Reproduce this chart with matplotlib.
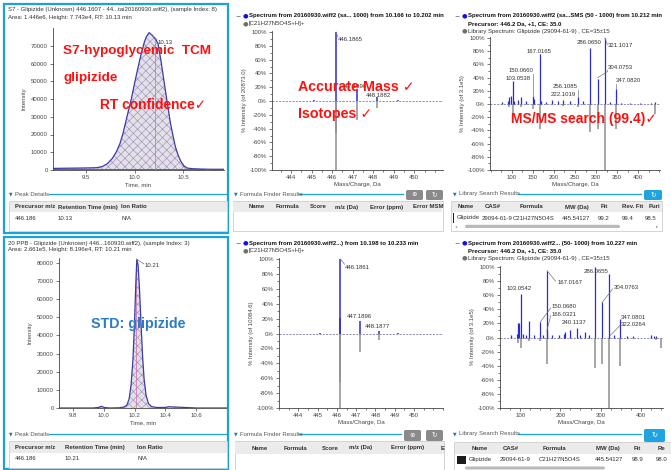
import matplotlib
matplotlib.use("Agg")
import matplotlib.pyplot as plt
from matplotlib.patches import Rectangle, FancyBboxPatch
from matplotlib.lines import Line2D
from matplotlib.ticker import FixedLocator, MultipleLocator, FuncFormatter

plt.rcParams["font.family"] = ["Liberation Sans", "DejaVu Sans"]
plt.rcParams["hatch.linewidth"] = 0.4

# ---------------------------------------------------------------- data
# Extracted ion chromatogram, S7 hypoglycemic TCM sample
s7_time = [9.16, 9.30, 9.45, 9.55, 9.61, 9.67, 9.72, 9.77, 9.81, 9.85, 9.88, 9.93,
           9.97, 10.00, 10.04, 10.07, 10.10, 10.12, 10.15, 10.18, 10.21, 10.24,
           10.27, 10.30, 10.33, 10.37, 10.40, 10.42, 10.45, 10.48, 10.51, 10.54,
           10.60, 10.70, 10.80, 10.92]
s7_int = [900, 1000, 1100, 1200, 1300, 2000, 3600, 6500, 10000, 15000, 20500, 32000,
          41000, 49000, 59000, 66000, 72000, 75000, 77430, 76000, 74000, 71500,
          62000, 51000, 40000, 26000, 18000, 13000, 8000, 4500, 2200, 1100,
          700, 500, 400, 400]

# Extracted ion chromatogram, 20 ppb glipizide standard
std_time = [9.71, 9.93, 9.965, 9.985, 10.005, 10.04, 10.10, 10.13, 10.15, 10.165,
            10.178, 10.19, 10.20, 10.208, 10.215, 10.223, 10.232, 10.242, 10.252,
            10.262, 10.275, 10.29, 10.31, 10.34, 10.40, 10.42, 10.60, 10.80]
std_int = [0, 0, 300, 900, 250, 0, 100, 500, 1500, 5000, 13000, 27000, 47000, 68000,
           81960, 79000, 66000, 47000, 29000, 16000, 7000, 2500, 800, 300, 300, 700, 0, 0]

# TOF-MS isotope spectra (% of base peak) and theoretical pattern (mirrored)
ms1_s7_mz = [444.19, 445.10, 446.1865, 447.1896, 448.1882, 449.19]
ms1_s7_int = [0.5, 1.0, 100, 16, 6, 1.2]
ms1_s7_lib_mz = [446.182, 446.186, 447.19, 448.19]
ms1_s7_lib_int = [-47, -100, -27, -10]

ms1_std_mz = [445.10, 446.16, 446.1861, 447.1896, 448.1877, 449.19]
ms1_std_int = [1.0, 21, 100, 17, 3.5, 1.2]
ms1_std_lib_mz = [446.182, 446.186, 447.19, 448.185]
ms1_std_lib_int = [-65, -100, -25, -8]

# MS/MS spectra (% of 3.1e5) and library spectrum (mirrored)
ms2_s7_mz = [77, 91, 93.7, 98.4, 103.0538, 106, 115, 121, 134, 150.0660, 152,
             167.0165, 170, 180, 196, 210, 222.1019, 238, 256.1085, 270, 286.0650,
             304.0753, 321.1017, 334, 347.0820, 360, 380, 405, 430, 441]
ms2_s7_int = [3, 5, 10, 12, 35, 5, 6, 11, 4, 12, 8, 75, 5, 3, 6, 4, 6, 5, 10, 4,
              85, 38, 100, 3, 22, 2, 2, 2, 2, 3]
ms2_s7_lib_mz = [93.7, 103.05, 121, 150.07, 167.02, 222.1, 256.11, 286.07, 304.08,
                 321.10, 347.08, 440]
ms2_s7_lib_int = [-5, -15, -5, -8, -38, -3, -5, -42, -38, -100, -38, -15]

ms2_std_mz = [77, 91, 94, 97.5, 103.0542, 108, 115, 121.5, 134, 150.0680, 158,
              166.0321, 167.0167, 180, 196, 208, 212, 225, 240.1137, 250, 261, 270,
              286.0655, 304.0763, 321.1, 322.0264, 334, 347.0801, 365, 380, 425, 432, 437]
ms2_std_int = [4, 5, 20, 21, 62, 5, 4, 23, 3, 22, 3, 8, 95, 3, 4, 5, 8, 10, 14, 4, 8, 3,
               100, 50, 90, 2, 3, 27, 2, 2, 3, 2, 2]
ms2_std_lib_mz = [94, 103.05, 121.5, 150.07, 167.02, 286.07, 304.08, 321.10, 347.08,
                  437, 449]
ms2_std_lib_int = [-8, -15, -5, -5, -38, -43, -38, -100, -40, -4, -15]

# ---------------------------------------------------------------- layout helpers
W, H = 671, 470
fig = plt.figure(figsize=(W / 100, H / 100), dpi=100)
fig.patch.set_facecolor("white")

CYAN = "#1aa3da"
BLUE = "#2a2ad8"
GRAY = "#8e8e8e"
DARK = "#333333"
RED = "#ff1010"
UI = 4.3


def ftext(x, y, s, **kw):
    kw.setdefault("va", "center")
    kw.setdefault("fontsize", UI)
    kw.setdefault("color", DARK)
    return fig.text(x / W, 1 - y / H, s, **kw)


def frect(x0, y0, x1, y1, **kw):
    r = Rectangle((x0 / W, 1 - y1 / H), (x1 - x0) / W, (y1 - y0) / H,
                  transform=fig.transFigure, **kw)
    fig.add_artist(r)
    return r


def fbutton(x0, y0, w, h, color):
    fig.add_artist(FancyBboxPatch((x0 / W, 1 - (y0 + h) / H), w / W, h / H,
                                  boxstyle="round,pad=0,rounding_size=0.003",
                                  transform=fig.transFigure, facecolor=color,
                                  edgecolor="none"))


def fline(x0, y0, x1, y1, **kw):
    fig.add_artist(Line2D([x0 / W, x1 / W], [1 - y0 / H, 1 - y1 / H],
                          transform=fig.transFigure, **kw))


def add_ax(x0, y0, x1, y1):
    ax = fig.add_axes([x0 / W, 1 - y1 / H, (x1 - x0) / W, (y1 - y0) / H])
    ax.set_facecolor("none")
    for s in ("top", "right"):
        ax.spines[s].set_visible(False)
    for s in ("left", "bottom"):
        ax.spines[s].set_color("#444444")
        ax.spines[s].set_linewidth(0.6)
    ax.tick_params(which="both", direction="out", width=0.5, colors="#444444",
                   labelsize=UI, pad=1.5)
    ax.tick_params(which="major", length=2.2)
    ax.tick_params(which="minor", length=1.2)
    return ax


def section(x, y, title, x_end):
    ftext(x, y, "\u25bc", fontsize=3.3, color="#1a78b4", family="DejaVu Sans")
    ftext(x + 6, y, title, color="#555555")
    fline(x + 6 + len(title) * 2.55 + 3, y, x_end, y, color=CYAN, lw=0.9)


def table(x0, y0, x1, y1, header, hx, rows=(), row_y=None, hband=None):
    frect(x0, y0, x1, y1, facecolor="white", edgecolor="#cccccc", lw=0.6)
    hb = hband if hband else (y0 + 1, y0 + 12)
    frect(x0 + 0.5, hb[0], x1 - 0.5, hb[1], facecolor="#ebebeb", edgecolor="none")
    hy = (hb[0] + hb[1]) / 2
    for s, xx in zip(header, hx):
        ftext(xx, hy, s, fontweight="bold", color="#303030")
    for r in rows:
        for s, xx in zip(r[0], r[1]):
            ftext(xx, row_y, s, color="#303030")


def spec_header(x, y, lines):
    ftext(x - 8, y, "\u2212", fontsize=4.5, color="#555555", family="DejaVu Sans")
    ftext(x, y, "\u25cf", fontsize=4.6, color="#1010e8", family="DejaVu Sans")
    for i, (s, bold, dot) in enumerate(lines):
        yy = y + 7.6 * i
        if dot:
            ftext(x, yy, "\u25cf", fontsize=4.6, color="#707070", family="DejaVu Sans")
        ftext(x + 6, yy, s, fontweight="bold" if bold else "normal",
              color="#111111" if bold else "#333333")


def pct(v, _):
    return f"{int(round(v))}%"


def spectrum_axes(rect, xlim, xticks, ylabel):
    ax = add_ax(*rect)
    ax.set_xlim(*xlim)
    ax.set_ylim(-100, 101.5)
    ax.yaxis.set_major_locator(FixedLocator(list(range(-100, 101, 20))))
    ax.yaxis.set_minor_locator(MultipleLocator(10))
    ax.yaxis.set_major_formatter(FuncFormatter(pct))
    ax.set_xticks(xticks)
    ax.axhline(0, color="#7c7ca6", lw=0.6, ls=(0, (2.5, 1.5)), zorder=1)
    ax.set_xlabel("Mass/Charge, Da", fontsize=UI, color="#444444", labelpad=1.5)
    ax.set_ylabel(ylabel, fontsize=UI, color="#444444", labelpad=2)
    return ax


def peaks(ax, mz, inten, lib_mz, lib_int, lw=0.9):
    ax.vlines(lib_mz, 0, lib_int, colors=GRAY, lw=1.1, zorder=2)
    ax.vlines(mz, 0, inten, colors=BLUE, lw=lw, zorder=3)


def plabel(ax, x, y, s, lead=None):
    ax.text(x, y, s, fontsize=UI, color="#333333", va="center", ha="left", zorder=5)
    if lead is not None:
        ax.plot(lead[0], lead[1], color="#777777", lw=0.5, zorder=4)


def chrom_axes(rect, xlim, ylim, xticks, yticks, t, inten, rt_mark, base):
    ax = add_ax(*rect)
    ax.set_xlim(*xlim)
    ax.set_ylim(*ylim)
    ax.set_xticks(xticks)
    ax.set_yticks(yticks)
    ax.yaxis.set_major_formatter(FuncFormatter(lambda v, _: f"{int(v)}"))
    ax.fill_between(t, 0, inten, facecolor="#e4e0ea", edgecolor="#978cad",
                    hatch="xxxx", lw=0, zorder=1)
    ax.plot(t, inten, color="#3b3ba8", lw=0.9, zorder=3)
    ax.plot(base[0], base[1], color="#e0303a", lw=0.7, zorder=2)
    ax.vlines(rt_mark[0], 0, rt_mark[1], colors="#d07ab4", lw=0.6, zorder=2)
    ax.set_xlabel("Time, min", fontsize=UI, color="#444444", labelpad=1.5)
    ax.set_ylabel("Intensity", fontsize=UI, color="#444444", labelpad=3)
    return ax


def red_note(x, y, s, size=10.2, color=RED):
    fig.text(x / W, 1 - y / H, s, fontsize=size, fontweight="bold", color=color,
             va="center", zorder=10)


# ---------------------------------------------------------------- left column: XICs
frect(4, 4, 228, 233, facecolor="none", edgecolor=CYAN, lw=1.6)
frect(4, 237, 228, 469, facecolor="none", edgecolor=CYAN, lw=1.6)

ftext(8, 10, "S7 - Glipizide (Unknown) 446.1607 - 44...tai20160930.wiff2), (sample Index: 8)")
ftext(8, 17, "Area: 1.446e6, Height: 7.743e4, RT: 10.13 min")
ax = chrom_axes((53, 28, 224, 170), (9.16, 10.92), (0, 80000), [9.5, 10.0, 10.5],
                list(range(0, 70001, 10000)), s7_time, s7_int, (10.21, 74000),
                ([9.16, 10.72], [450, 450]))
plabel(ax, 10.235, 71800, "10.13", lead=([10.15, 10.23], [77430, 73500]))
red_note(63, 51, "S7-hypoglycemic  TCM", size=9.7)
red_note(63, 78, "glipizide", size=9.7)
red_note(100, 105, "RT confidence\u2713", size=9.9)

section(9, 194, "Peak Details", 227)
table(9, 201, 227, 231, ["Precursor m/z", "Retention Time (min)", "Ion Ratio"],
      [15, 58, 121], rows=[(["446.186", "10.13", "N/A"], [15, 58, 121])], row_y=219,
      hband=(202, 212))

ftext(8, 243, "20 PPB - Glipizide (Unknown) 446...160930.wiff2), (sample Index: 3)")
ftext(8, 250, "Area: 2.661e5, Height: 8.196e4, RT: 10.21 min")
ax = chrom_axes((59, 258, 227, 408), (9.71, 10.80), (0, 82700),
                [9.8, 10.0, 10.2, 10.4, 10.6], list(range(0, 80001, 10000)),
                std_time, std_int, (10.21, 78000), ([10.13, 10.45], [250, 250]))
plabel(ax, 10.265, 78500, "10.21", lead=([10.215, 10.26], [81960, 79500]))
red_note(91, 324, "STD: glipizide", size=10.3, color="#2b7cc4")

section(9, 434, "Peak Details", 227)
table(9, 441, 227, 468, ["Precursor m/z", "Retention Time (min)", "Ion Ratio"],
      [15, 65, 137], rows=[(["446.186", "10.21", "N/A"], [15, 65, 137])], row_y=459,
      hband=(442, 453))

# ---------------------------------------------------------------- middle column: TOF-MS
spec_header(243, 16, [("Spectrum from 20160930.wiff2 (sa... 1000) from 10.166 to 10.202 min", True, False),
                      ("[C21H27N5O4S+H]+", False, True)])
ax = spectrum_axes((272, 31, 443, 170), (443.07, 451.4), [444, 445, 446, 447, 448, 449, 450],
                   "% Intensity (of 20873.0)")
ax.xaxis.set_minor_locator(MultipleLocator(0.5))
peaks(ax, ms1_s7_mz, ms1_s7_int, ms1_s7_lib_mz, ms1_s7_lib_int, lw=1.1)
plabel(ax, 446.29, 89, "446.1865", lead=([446.19, 446.28], [100, 93]))
plabel(ax, 446.45, 21, "447.1896")
plabel(ax, 447.65, 8, "448.1882")
red_note(298, 87, "Accurate Mass \u2713", size=10.3)
red_note(298, 114, "Isotopes \u2713", size=10.3)

section(234, 194, "Formula Finder Results", 403)
fbutton(406, 190, 17, 10, "#8a8a8a")
fbutton(426, 190, 17, 10, "#8a8a8a")
ftext(414.5, 195, "\u2295", ha="center", fontsize=4.6, color="white", family="DejaVu Sans")
ftext(434.5, 195, "\u21bb", ha="center", fontsize=4.8, color="white", family="DejaVu Sans")
table(233, 201, 443, 231, ["Name", "Formula", "Score", "m/z (Da)", "Error (ppm)", "Error MSM"],
      [249, 276, 310, 335, 370, 413], hband=(202, 212))

spec_header(243, 243, [("Spectrum from 20160930.wiff2...) from 10.198 to 10.233 min", True, False),
                       ("[C21H27N5O4S+H]+", False, True)])
ax = spectrum_axes((279, 258, 443, 408), (443.0, 451.5), [444, 445, 446, 447, 448, 449, 450],
                   "% Intensity (of 10084.6)")
ax.xaxis.set_minor_locator(MultipleLocator(0.5))
peaks(ax, ms1_std_mz, ms1_std_int, ms1_std_lib_mz, ms1_std_lib_int, lw=1.1)
plabel(ax, 446.42, 89, "446.1861", lead=([446.19, 446.40], [100, 93]))
plabel(ax, 446.52, 23, "447.1896")
plabel(ax, 447.46, 9, "448.1877")

section(234, 434, "Formula Finder Results", 401)
fbutton(404, 430, 17, 11, "#8a8a8a")
fbutton(426, 430, 17, 11, "#8a8a8a")
ftext(412.5, 435.5, "\u2295", ha="center", fontsize=4.6, color="white", family="DejaVu Sans")
ftext(434.5, 435.5, "\u21bb", ha="center", fontsize=4.8, color="white", family="DejaVu Sans")
table(235, 441, 444, 471, ["Name", "Formula", "Score", "m/z (Da)", "Error (ppm)", "E"],
      [252, 284, 322, 349, 391, 441], hband=(442, 454))

# ---------------------------------------------------------------- right column: MS/MS
lib_line = "Library Spectrum: Glipizide (29094-61-9) , CE=35\u00b115"
spec_header(462, 16, [("Spectrum from 20160930.wiff2 (sa...SMS (50 - 1000) from 10.212 min", True, False),
                      ("Precursor: 446.2 Da, +1, CE: 35.0", True, False),
                      (lib_line, False, True)])
ax = spectrum_axes((490, 37, 660, 170), (48, 452), [100, 150, 200, 250, 300, 350, 400],
                   "% Intensity (of 3.1e5)")
ax.xaxis.set_minor_locator(MultipleLocator(25))
peaks(ax, ms2_s7_mz, ms2_s7_int, ms2_s7_lib_mz, ms2_s7_lib_int)
plabel(ax, 84, 39, "103.0538")
plabel(ax, 91, 51, "150.0660", lead=([150.07, 150.07], [46, 13]))
plabel(ax, 136, 80, "167.0165")
plabel(ax, 198, 26, "256.1085", lead=([256.1, 256.1], [21, 11]))
plabel(ax, 191, 14, "222.1019")
plabel(ax, 255, 93, "286.0650")
plabel(ax, 329, 88, "321.1017", lead=([321.1, 327], [100, 90]))
plabel(ax, 329, 56, "304.0753", lead=([304.08, 327, 327], [40, 49, 51]))
plabel(ax, 346, 35, "347.0820", lead=([347.08, 347.08], [23, 30]))
red_note(511, 119, "MS/MS search (99.4)\u2713", size=10.0)

section(453, 194, "Library Search Results", 641)
fbutton(644, 190, 18, 10, "#1ea5e0")
ftext(653, 195, "\u21bb", ha="center", fontsize=4.8, color="white", family="DejaVu Sans")
table(451, 201, 662, 231, ["Name", "CAS#", "Formula", "MW (Da)", "Fit", "Rev. Fit", "Puri"],
      [458, 485, 520, 565, 601, 622, 649],
      rows=[(["Glipizide", "29094-61-9", "C21H27N5O4S", "445.54127", "99.2", "99.4", "98.5"],
             [457, 482, 513, 562, 598, 622, 645])], row_y=218, hband=(202, 212))
frect(452.5, 213, 453.8, 223, facecolor="#222222", edgecolor="none")
fbutton(465, 224.8, 155, 3.2, "#b9b9b9")
ftext(455, 226.5, "\u25c2", fontsize=3.2, color="#888888", family="DejaVu Sans")
ftext(656, 226.5, "\u25b8", fontsize=3.2, color="#888888", family="DejaVu Sans")

spec_header(462, 243, [("Spectrum from 20160930.wiff2... (50- 1000) from 10.227 min", True, False),
                       ("Precursor: 446.2 Da, +1, CE: 35.0", True, False),
                       (lib_line, False, True)])
ax = spectrum_axes((500, 266, 663, 408), (50, 455), [100, 200, 300, 400],
                   "% Intensity (of 3.1e5)")
ax.xaxis.set_minor_locator(MultipleLocator(25))
peaks(ax, ms2_std_mz, ms2_std_int, ms2_std_lib_mz, ms2_std_lib_int)
plabel(ax, 67.5, 69, "103.0542")
plabel(ax, 192, 78, "167.0167", lead=([167.02, 188], [95, 80]))
plabel(ax, 177, 44, "150.0680", lead=([150.07, 176], [22, 42]))
plabel(ax, 177, 33, "166.0321", lead=([166.03, 176], [9, 31]))
plabel(ax, 202, 21, "240.1137")
plabel(ax, 257, 94, "286.0655")
plabel(ax, 332, 71, "304.0763", lead=([304.08, 330], [50, 69]))
plabel(ax, 350, 29, "347.0801")
plabel(ax, 350, 19, "322.0264", lead=([322.03, 348], [2, 17]))

section(453, 434, "Library Search Results", 641)
fbutton(644, 429, 21, 13, "#1ea5e0")
ftext(654.5, 435.5, "\u21bb", ha="center", fontsize=5.2, color="white", family="DejaVu Sans")
table(454, 442, 671, 471, ["Name", "CAS#", "Formula", "MW (Da)", "Fit", "Re"],
      [472, 503, 543, 596, 634, 658],
      rows=[(["Glipizide", "29094-61-9", "C21H27N5O4S", "445.54127", "98.9", "98.0"],
             [469, 500, 539, 595, 632, 656])], row_y=459.5, hband=(443, 454))
frect(457.5, 455.5, 466, 464, facecolor="#1c1c1c", edgecolor="none")
fbutton(465, 466.5, 140, 3, "#b9b9b9")

fig.savefig("out.png", dpi=100, facecolor="white")
